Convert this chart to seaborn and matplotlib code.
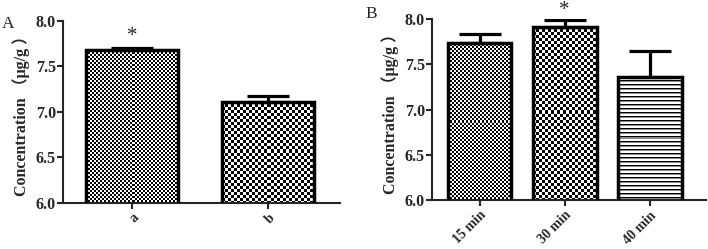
import numpy as np
import pandas as pd
import seaborn as sns
import matplotlib.pyplot as plt

# data
cats_a = ['a', 'b']
vals_a = [7.68, 7.11]
err_a = [0.02, 0.07]
fill_a = ['fine', 'coarse']

cats_b = ['15 min', '30 min', '40 min']
vals_b = [7.73, 7.91, 7.36]
err_b = [0.10, 0.08, 0.29]
fill_b = ['fine', 'coarse', 'stripes']

star_a = ('a', 7.83)
star_b = ('30 min', 8.09)

ylabel = 'Concentration （μg/g ）'
yticks = [6.0, 6.5, 7.0, 7.5, 8.0]

sns.set_style('ticks')
plt.rcParams['font.family'] = ['Liberation Serif', 'Noto Sans CJK SC']
plt.rcParams['font.weight'] = 'bold'


def texture(kind, ny, nx):
    yy, xx = np.mgrid[0:ny, 0:nx]
    if kind == 'fine':
        return ((yy // 2 + xx // 2) % 2).astype(float)
    if kind == 'coarse':
        return ((yy // 3 + xx // 3) % 2).astype(float)
    # horizontal lines
    z = np.ones((ny, nx))
    z[yy % 4 == 0] = 0.0
    z[yy % 4 == 1] = 0.55
    return z


def panel(ax, cats, vals, errs, fills, width, xlim, star):
    df = pd.DataFrame({'cat': cats, 'val': vals})
    sns.barplot(data=df, x='cat', y='val', color='white', width=width,
                edgecolor='black', linewidth=2.5, ax=ax, zorder=3)
    ax.set_xlim(*xlim)
    ax.set_ylim(6.0, 8.0)
    sx = ax.bbox.width / (xlim[1] - xlim[0])
    sy = ax.bbox.height / 2.0
    for bar, kind in zip(ax.patches, fills):
        bar.set_facecolor('none')
        x0, w = bar.get_x(), bar.get_width()
        y0 = max(bar.get_y(), 6.0)
        h = bar.get_y() + bar.get_height() - y0
        nx = max(int(round(w * sx)), 1)
        ny = max(int(round(h * sy)), 1)
        im = ax.imshow(texture(kind, ny, nx), cmap='gray', vmin=0, vmax=1,
                       extent=(x0, x0 + w, y0, y0 + h), origin='upper',
                       interpolation='nearest', aspect='auto', zorder=2)
        im.set_clip_path(bar)
    ax.set_xlim(*xlim)
    ax.set_ylim(6.0, 8.0)
    xs = np.arange(len(cats))
    ax.errorbar(xs, vals, yerr=[np.zeros(len(errs)), errs], fmt='none',
                ecolor='black', elinewidth=2.3, capsize=15, capthick=2.3, zorder=2.5)
    ax.text(cats.index(star[0]), star[1], '*', ha='center', va='center',
            fontsize=15, fontweight='normal', clip_on=False)
    sns.despine(ax=ax)
    for s in ['left', 'bottom']:
        ax.spines[s].set_linewidth(1.5)
    ax.tick_params(width=1.5, length=4)
    ax.tick_params(axis='y', pad=1)
    ax.tick_params(axis='x', pad=2)
    ax.set_yticks(yticks)
    ax.set_yticklabels([f'{t:.1f}' for t in yticks], fontweight='bold', fontsize=11.5)
    ax.set_xticks(xs)
    ax.set_xticklabels(cats, rotation=45, ha='right', rotation_mode='anchor',
                       fontweight='bold', fontsize=10)
    ax.set_xlabel('')
    ax.set_ylabel(ylabel, fontsize=11.5, fontweight='bold', labelpad=4)
    return ax


fig = plt.figure(figsize=(7.08, 2.49), dpi=100)
ax1 = fig.add_axes([0.089, 0.185, 0.391, 0.731])
ax2 = fig.add_axes([0.610, 0.195, 0.387, 0.729])

panel(ax1, cats_a, vals_a, err_a, fill_a, 0.68, (-0.507, 1.53), star_a)
panel(ax2, cats_b, vals_b, err_b, fill_b, 0.75, (-0.56, 2.66), star_b)

fig.text(0.003, 0.905, 'A', fontsize=12.5, fontweight='normal', va='center')
fig.text(0.516, 0.944, 'B', fontsize=12.5, fontweight='normal', va='center')

fig.savefig('out.png', dpi=100)
